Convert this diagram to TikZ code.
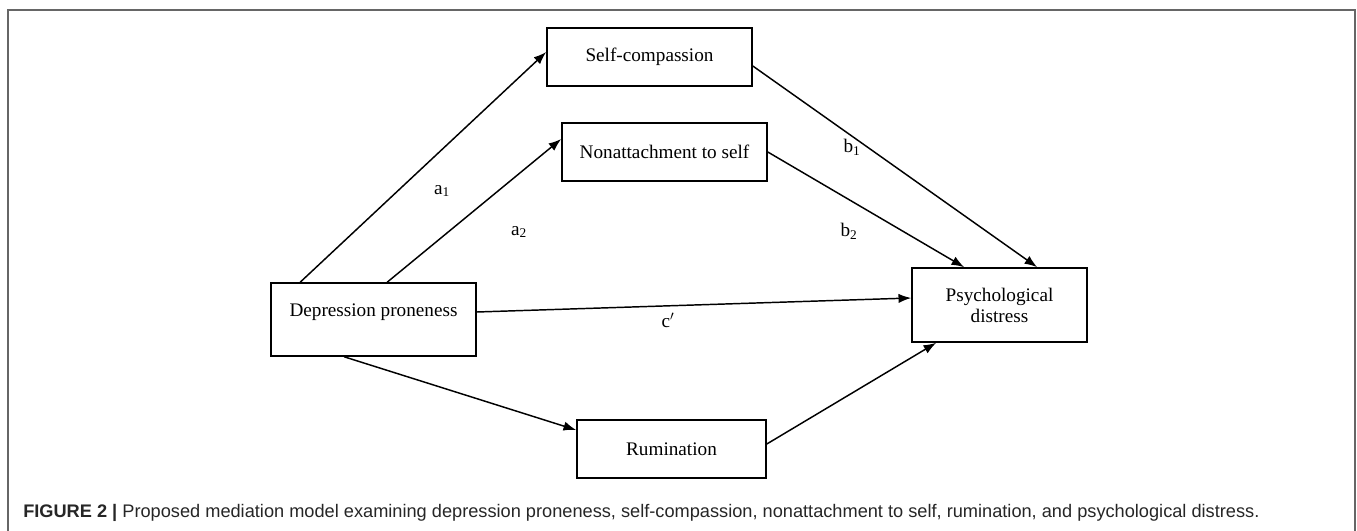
\documentclass[tikz,border=0pt]{standalone}
\usepackage{fontspec}
\setmainfont{Liberation Serif}
\newfontfamily\capfont{Liberation Sans}
\usetikzlibrary{arrows.meta,calc}
\tikzset{
  varbox/.style={draw, line width=1.2pt, inner sep=0pt, align=center,
    font=\fontsize{14.4}{15.75}\selectfont},
  link/.style={line width=1.1pt, -{Latex[length=9.5pt,width=7pt]}},
  coef/.style={inner sep=0pt, font=\fontsize{14.4}{16}\selectfont}
}
\begin{document}
\begin{tikzpicture}[x=0.75pt, y=-0.75pt]
\useasboundingbox (0,0) rectangle (1357,531);
\draw[black!60, line width=1.1pt] (8,531) -- (8,10) -- (1355,10) -- (1355,531);
% variables
\node[varbox, minimum width=153.75pt, minimum height=43.5pt] (selfcomp) at (649.5,57) {Self-compassion};
\node[varbox, minimum width=153.75pt, minimum height=43.5pt] (nonattach) at (664.5,152) {Nonattachment to self};
\node[varbox, minimum width=153.75pt, minimum height=54.75pt, text height=10pt, text depth=14pt] (depress) at (373.5,319.5) {Depression proneness};
\node[varbox, minimum width=131.25pt, minimum height=55.5pt] (distress) at (999.5,305) {Psychological\\distress};
\node[varbox, minimum width=141.75pt, minimum height=43.5pt] (rumin) at (671.5,449) {Rumination};
% paths
\draw[link] ($(depress.north west)+(30,0)$) -- ($(selfcomp.west)+(0,-5)$);
\draw[link] ($(depress.north west)+(117,0)$) -- ($(nonattach.west)+(0,-13)$);
\draw[link] ($(selfcomp.east)+(0,9)$) -- ($(distress.north west)+(126,0)$);
\draw[link] (nonattach.east) -- ($(distress.north west)+(53,0)$);
\draw[link] ($(depress.east)+(0,-7.5)$) -- ($(distress.west)+(0,-7)$);
\draw[link] ($(depress.south west)+(74,0)$) -- ($(rumin.west)+(0,-19)$);
\draw[link] ($(rumin.east)+(0,-5)$) -- ($(distress.south west)+(25,0)$);
% coefficients
\node[coef] (a1) at (442,191) {a\textsubscript{1}};
\node[coef] (a2) at (519,232) {a\textsubscript{2}};
\node[coef] (b1) at (852,147) {b\textsubscript{1}};
\node[coef] (b2) at (849,231) {b\textsubscript{2}};
\node[coef] (c) at (668,320) {c$'$};
% caption
\node[anchor=base west, inner sep=0pt, text=black!85, font=\capfont\fontsize{13.65}{15}\selectfont] (caption) at (23,517)
  {\textbf{FIGURE 2 |} Proposed mediation model examining depression proneness, self-compassion, nonattachment to self, rumination, and psychological distress.};
\end{tikzpicture}
\end{document}
